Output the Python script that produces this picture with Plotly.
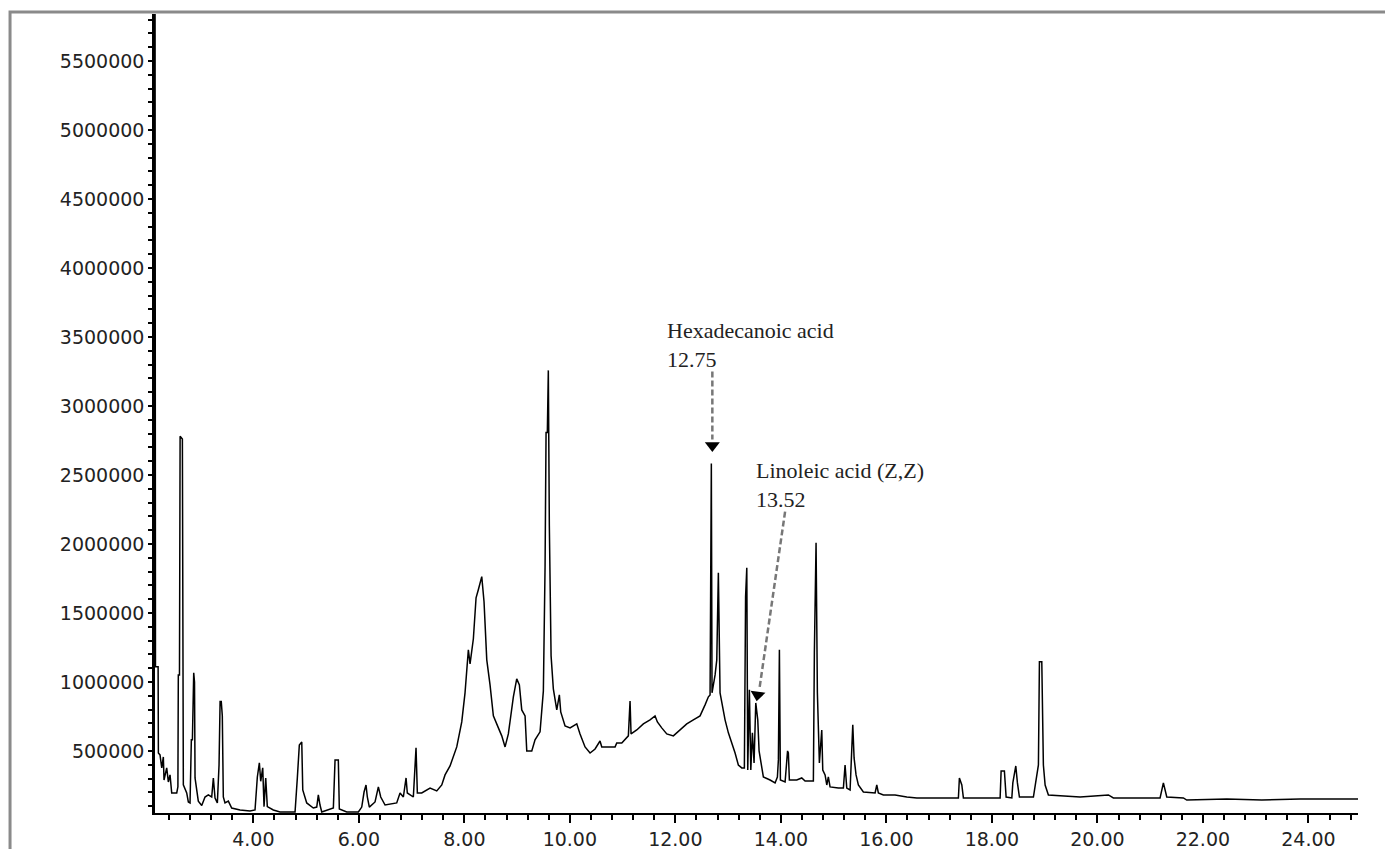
import plotly.graph_objects as go

# Retention time (min) and abundance
rt = [
    2.136, 2.145, 2.195, 2.200, 2.231, 2.264, 2.294, 2.307, 2.358, 2.389, 2.421, 2.453,
    2.548, 2.570, 2.578, 2.600, 2.612, 2.655, 2.673, 2.737, 2.768, 2.800, 2.825, 2.845,
    2.870, 2.885, 2.895, 2.957, 3.022, 3.084, 3.147, 3.211, 3.242, 3.274, 3.318, 3.350,
    3.370, 3.392, 3.412, 3.431, 3.463, 3.526, 3.590, 3.748, 3.937, 4.032, 4.076, 4.114,
    4.140, 4.178, 4.203, 4.235, 4.265, 4.379, 4.506, 4.633, 4.791, 4.834, 4.872, 4.918,
    4.937, 5.012, 5.137, 5.202, 5.232, 5.264, 5.297, 5.517, 5.549, 5.611, 5.630, 5.771,
    5.991, 6.055, 6.099, 6.136, 6.161, 6.199, 6.307, 6.370, 6.415, 6.497, 6.718, 6.781,
    6.844, 6.895, 6.919, 7.033, 7.084, 7.109, 7.192, 7.350, 7.477, 7.572, 7.634, 7.729,
    7.856, 7.951, 8.013, 8.076, 8.108, 8.171, 8.222, 8.265, 8.330, 8.373, 8.425, 8.487,
    8.550, 8.645, 8.709, 8.772, 8.834, 8.929, 8.993, 9.043, 9.088, 9.151, 9.183, 9.278,
    9.340, 9.435, 9.498, 9.530, 9.549, 9.573, 9.592, 9.611, 9.644, 9.687, 9.752, 9.801,
    9.827, 9.909, 10.004, 10.131, 10.193, 10.288, 10.383, 10.478, 10.572, 10.605, 10.700,
    10.857, 10.889, 10.984, 11.109, 11.141, 11.160, 11.268, 11.393, 11.520, 11.615, 11.659,
    11.742, 11.837, 11.962, 12.089, 12.216, 12.341, 12.468, 12.563, 12.626, 12.658, 12.682,
    12.695, 12.753, 12.785, 12.815, 12.847, 12.880, 12.942, 13.005, 13.069, 13.132, 13.194,
    13.259, 13.308, 13.331, 13.354, 13.372, 13.403, 13.430, 13.460, 13.492, 13.524, 13.562,
    13.587, 13.619, 13.668, 13.795, 13.890, 13.934, 13.953, 13.972, 13.991, 14.080, 14.112,
    14.127, 14.142, 14.161, 14.301, 14.396, 14.459, 14.616, 14.635, 14.667, 14.692, 14.730,
    14.775, 14.794, 14.838, 14.870, 14.900, 14.932, 15.090, 15.185, 15.217, 15.249, 15.312,
    15.344, 15.363, 15.388, 15.425, 15.469, 15.564, 15.786, 15.818, 15.848, 15.943, 16.165,
    16.387, 16.577, 16.891, 17.365, 17.384, 17.430, 17.460, 18.156, 18.175, 18.237, 18.270,
    18.378, 18.397, 18.453, 18.484, 18.522, 18.787, 18.882, 18.901, 18.946, 18.976, 19.009,
    19.071, 19.355, 19.672, 20.209, 20.303, 21.188, 21.251, 21.315, 21.630, 21.694, 22.453,
    23.116, 23.843, 24.942,
]
abundance = [
    6500000, 1110000, 1110000, 485000, 471000, 377000, 456000, 289000, 377000, 275000, 326000, 195000,
    195000, 240000, 1050000, 1050000, 2780000, 2760000, 254000, 195000, 130000, 123000, 580000, 580000,
    1066000, 1000000, 304000, 136000, 105000, 166000, 181000, 166000, 304000, 159000, 123000, 398000,
    858000, 858000, 754000, 166000, 123000, 136000, 86000, 72000, 65000, 72000, 311000, 413000,
    280000, 377000, 96000, 304000, 96000, 72000, 57000, 57000, 57000, 304000, 543000, 565000,
    217000, 123000, 86000, 93000, 181000, 108000, 57000, 86000, 435000, 435000, 79000, 57000,
    57000, 93000, 202000, 253000, 166000, 93000, 130000, 239000, 166000, 108000, 123000, 195000,
    166000, 304000, 195000, 166000, 522000, 195000, 195000, 231000, 210000, 253000, 326000, 391000,
    529000, 710000, 921000, 1233000, 1131000, 1313000, 1610000, 1668000, 1763000, 1581000, 1160000, 979000,
    754000, 667000, 609000, 529000, 623000, 892000, 1022000, 979000, 797000, 754000, 500000, 500000,
    580000, 638000, 935000, 1835000, 2808000, 2808000, 3258000, 2133000, 1189000, 950000, 797000, 906000,
    783000, 681000, 667000, 696000, 623000, 529000, 485000, 514000, 572000, 529000, 529000,
    529000, 558000, 558000, 609000, 862000, 623000, 652000, 696000, 725000, 754000, 710000,
    667000, 623000, 609000, 652000, 696000, 725000, 754000, 834000, 892000, 906000, 2583000,
    921000, 1051000, 1160000, 1792000, 921000, 848000, 725000, 631000, 565000, 485000, 398000,
    377000, 377000, 1618000, 1828000, 362000, 943000, 362000, 631000, 413000, 848000, 725000,
    500000, 413000, 311000, 289000, 268000, 311000, 435000, 1233000, 289000, 275000, 413000,
    500000, 485000, 289000, 289000, 304000, 282000, 282000, 1211000, 2009000, 921000, 413000,
    652000, 362000, 326000, 253000, 311000, 239000, 231000, 231000, 398000, 231000, 217000,
    456000, 689000, 449000, 326000, 253000, 202000, 195000, 253000, 195000, 181000, 181000,
    166000, 159000, 159000, 159000, 304000, 253000, 159000, 159000, 355000, 355000, 166000,
    159000, 268000, 391000, 268000, 166000, 166000, 398000, 1146000, 1146000, 398000, 253000,
    181000, 173000, 166000, 181000, 159000, 159000, 268000, 166000, 159000, 144000, 152000,
    144000, 152000, 152000,
]

# Peak labels
label_text = ["Hexadecanoic acid<br>12.75", "Linoleic acid (Z,Z)<br>13.52"]
label_rt = [11.81, 13.49]
label_ab = [3655000, 2635000]
arrow_tail_rt = [12.701, 14.080]
arrow_tail_ab = [3250000, 2234000]
arrow_end_rt = [12.701, 13.596]
arrow_end_ab = [2757000, 957000]
arrow_tip_rt = [12.701, 13.558]
arrow_tip_ab = [2713000, 906000]
arrow_angle = [0, 8]

x_range = [2.136, 24.94]
y_range = [50000, 5841000]

fig = go.Figure()
fig.add_trace(go.Scatter(x=rt, y=abundance, mode="lines",
                         line=dict(color="black", width=1.5), hoverinfo="skip",
                         showlegend=False))

for i in range(len(label_text)):
    fig.add_trace(go.Scatter(x=[arrow_tail_rt[i], arrow_end_rt[i]],
                             y=[arrow_tail_ab[i], arrow_end_ab[i]], mode="lines",
                             line=dict(color="#777777", width=2.5, dash="6px,3px"),
                             showlegend=False, hoverinfo="skip"))
    fig.add_trace(go.Scatter(x=[arrow_tip_rt[i]], y=[arrow_tip_ab[i]], mode="markers",
                             marker=dict(symbol="triangle-down", size=13, color="black",
                                         angle=arrow_angle[i], line=dict(width=0)),
                             showlegend=False, hoverinfo="skip"))
    fig.add_annotation(x=label_rt[i], y=label_ab[i], text=label_text[i],
                       showarrow=False, xanchor="left", yanchor="top", align="left",
                       font=dict(family="Liberation Serif", size=22, color="#222222"))

tick_font = dict(family="DejaVu Sans", size=19, color="#222222")

fig.update_xaxes(range=x_range, showline=True, linecolor="black", linewidth=2,
                 showgrid=False, zeroline=False, ticks="outside", ticklen=8,
                 tickcolor="black", tickwidth=1.5, tick0=0, dtick=2, tickformat=".2f",
                 tickfont=tick_font, automargin=False,
                 minor=dict(ticks="outside", ticklen=5, tickcolor="black", tickwidth=1.5,
                            tick0=0, dtick=0.4, showgrid=False))
fig.update_yaxes(range=y_range, showline=True, linecolor="black", linewidth=2.5,
                 showgrid=False, zeroline=False, ticks="outside", ticklen=4,
                 tickcolor="black", tickwidth=1.5, tick0=0, dtick=500000, tickformat="d",
                 tickfont=tick_font, automargin=False,
                 minor=dict(ticks="outside", ticklen=4, tickcolor="black", tickwidth=1.5,
                            tick0=0, dtick=100000, showgrid=False))

fig.add_shape(type="rect", xref="paper", yref="paper",
              x0=-0.1205, x1=1.03, y0=-0.12, y1=1.0025,
              line=dict(color="#8a8a8a", width=3), fillcolor="rgba(0,0,0,0)", layer="below")

fig.update_layout(width=1385, height=849, autosize=False,
                  margin=dict(l=155, r=27, t=14, b=36, pad=0),
                  plot_bgcolor="white", paper_bgcolor="white", showlegend=False)

fig.write_html("out.html", config={"displayModeBar": False},
               post_script="document.body.style.margin='0';document.body.style.overflow='hidden';")
